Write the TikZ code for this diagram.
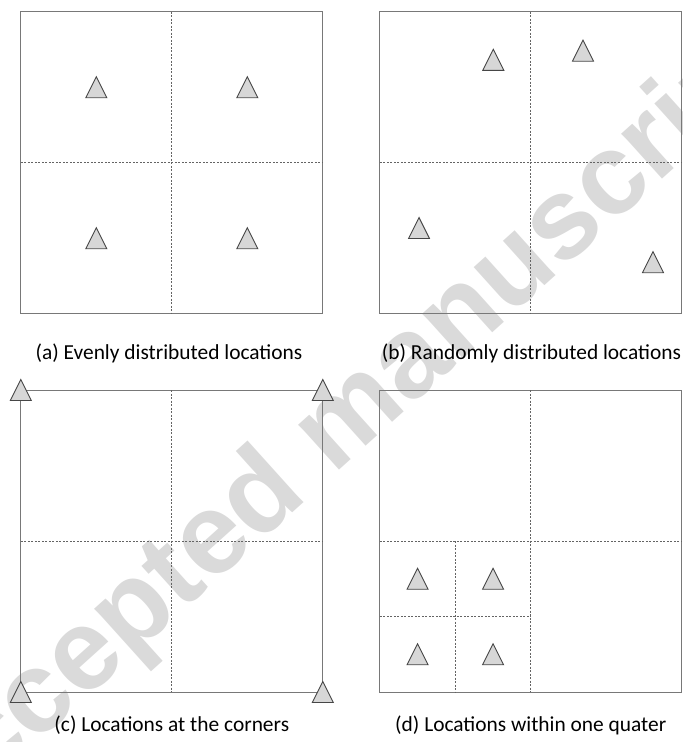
\documentclass[tikz,border=0pt]{standalone}
\usepackage{fontspec}
\setmainfont{Carlito}
\newfontfamily\markfont{Liberation Sans}
\usetikzlibrary{calc}
\definecolor{framegray}{RGB}{120,120,120}
\definecolor{dashgray}{RGB}{100,100,100}
\definecolor{sitefill}{RGB}{215,215,215}
\definecolor{siteedge}{RGB}{70,70,70}
\definecolor{markgray}{RGB}{218,218,218}
\begin{document}
\begin{tikzpicture}[
        x=1pt, y=-1pt,
        font=\fontsize{21.4}{25}\selectfont,
        frame/.style={rectangle, draw=framegray, line width=1pt, minimum size=302pt, inner sep=0pt, outer sep=0pt},
        split/.style={draw=dashgray, line width=0.8pt, dash pattern=on 2pt off 1.5pt},
        caption/.style={inner sep=0pt, anchor=center},
        site/.pic={\draw[draw=siteedge, fill=sitefill, line width=0.9pt] (0,-10.5) -- (10.5,10.5) -- (-10.5,10.5) -- cycle;}
    ]
    \useasboundingbox (0,0) rectangle (683,742);
    % Watermark
    \node[rotate=42, text=markgray, font=\markfont\bfseries\fontsize{115}{115}\selectfont] (mark) at (340,430) {Accepted manuscript};
    % (a) Evenly distributed
    \node[frame] (A) at (171.8,162.7) {};
    \draw[split] (A.north) -- (A.south);
    \draw[split] (A.west) -- (A.east);
    \pic at ($(A.center)!0.5!(A.north west)$) {site};
    \pic at ($(A.center)!0.5!(A.north east)$) {site};
    \pic at ($(A.center)!0.5!(A.south west)$) {site};
    \pic at ($(A.center)!0.5!(A.south east)$) {site};
    \node[caption] (capA) at (169,353) {(a) Evenly distributed locations};
    % (b) Randomly distributed
    \node[frame] (B) at (530.8,162.7) {};
    \draw[split] (B.north) -- (B.south);
    \draw[split] (B.west) -- (B.east);
    \pic at (493.3,59.8) {site};
    \pic at (583,50.7) {site};
    \pic at (653,262.2) {site};
    \pic at (419,228) {site};
    \node[caption] (capB) at (531.5,353) {(b) Randomly distributed locations};
    % (c) Corners
    \node[frame] (C) at (171.8,541) {};
    \draw[split] (C.north) -- (C.south);
    \draw[split] (C.west) -- (C.east);
    \pic at (C.north west) {site};
    \pic at (C.north east) {site};
    \pic at (C.south west) {site};
    \pic at (C.south east) {site};
    \node[caption] (capC) at (171.8,725) {(c) Locations at the corners};
    % (d) One quarter
    \node[frame] (D) at (530.8,541) {};
    \draw[split] (D.north) -- (D.south);
    \draw[split] (D.west) -- (D.east);
    \draw[split] ($(D.west)!0.5!(D.south west)$) -- ($(D.center)!0.5!(D.south)$);
    \draw[split] ($(D.west)!0.5!(D.center)$) -- ($(D.south west)!0.5!(D.south)$);
    \foreach \u in {0.25,0.75}
        \foreach \v in {0.25,0.75}
            \pic at ($(D.west)!\u!(D.center) + (0,151*\v)$) {site};
    \node[caption] (capD) at (530.8,725) {(d) Locations within one quater};
\end{tikzpicture}
\end{document}
